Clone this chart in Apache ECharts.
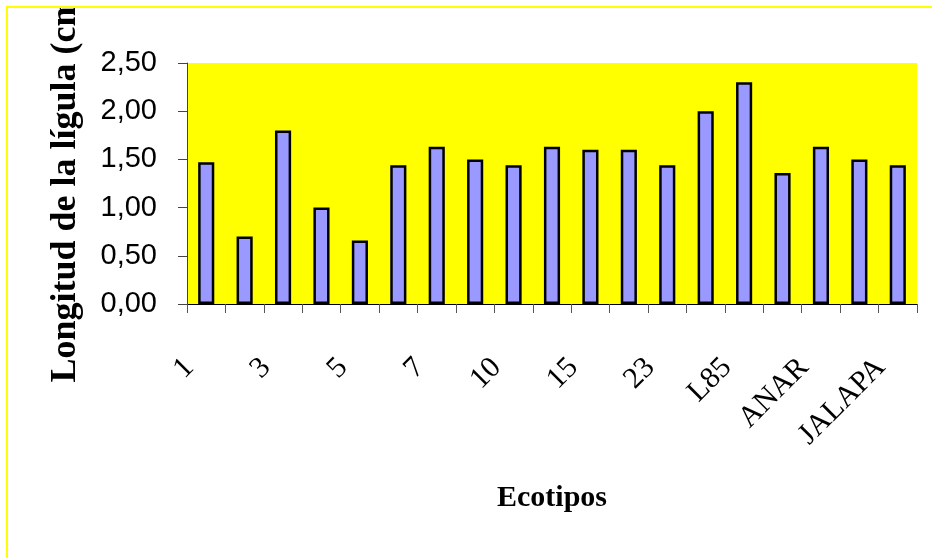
<!DOCTYPE html>
<html>
<head>
<meta charset="utf-8">
<script src="https://cdn.jsdelivr.net/npm/echarts@6/dist/echarts.min.js"></script>
<style>
  html, body { margin: 0; padding: 0; background: #fff; }
  #frame {
    position: absolute; left: 6px; top: 6px; width: 926px; height: 551px;
    border-left: 2px solid #ffff00; border-top: 2px solid #ffff00;
    border-bottom: 1px solid #ffff66;
  }
  #chart { width: 924px; height: 551px; }
</style>
</head>
<body>
<div id="frame"><div id="chart"></div></div>
<script>
// ecotipos (los intermedios no se ven en la figura, solo uno de cada dos)
const categories = ['1', '2', '3', '4', '5', '6', '7', '8', '10', '12', '15', '20', '23', 'L80', 'L85', 'ALAMO', 'ANAR', 'CHAPINGO', 'JALAPA'];
// longitud de la lígula (cm)
const ligula = [1.47, 0.70, 1.80, 1.00, 0.66, 1.44, 1.63, 1.50, 1.44, 1.63, 1.60, 1.60, 1.44, 2.00, 2.30, 1.36, 1.63, 1.50, 1.44];

const chart = echarts.init(document.getElementById('chart'));

const option = {
  animation: false,
  grid: {
    left: 179, right: 15, top: 55, bottom: 255,
    outerBoundsMode: 'none',
    containLabel: false,
    show: true, backgroundColor: '#ffff00', borderWidth: 0
  },
  xAxis: {
    type: 'category',
    data: categories,
    name: 'Ecotipos',
    nameLocation: 'middle',
    nameGap: 179,
    nameTextStyle: { fontFamily: 'Liberation Serif', fontWeight: 'bold', fontSize: 30, color: '#000' },
    axisLine: { lineStyle: { color: '#000', width: 1 } },
    axisTick: { show: true, interval: 0, length: 9, lineStyle: { color: '#555' } },
    axisLabel: {
      interval: 1, rotate: 45, margin: 42,
      padding: [0, 24, 0, 0],
      fontFamily: 'Liberation Serif', fontSize: 30, color: '#000'
    }
  },
  yAxis: {
    type: 'value',
    min: 0, max: 2.5, interval: 0.5,
    name: 'Longitud de la lígula (cm)',
    nameLocation: 'middle',
    nameGap: 103,
    nameTextStyle: { fontFamily: 'Liberation Serif', fontWeight: 'bold', fontSize: 36, color: '#000' },
    axisLine: { show: true, lineStyle: { color: '#444', width: 1 } },
    axisTick: { show: true, length: 9, lineStyle: { color: '#444' } },
    splitLine: { show: false },
    axisLabel: {
      margin: 30,
      fontFamily: 'Liberation Sans', fontSize: 29, color: '#000',
      formatter: v => v.toFixed(2).replace('.', ',')
    }
  },
  series: [{
    type: 'bar',
    data: ligula,
    barWidth: '42%',
    itemStyle: { color: '#9999ff', borderColor: '#000', borderWidth: 2.5 }
  }]
};

chart.setOption(option);
</script>
</body>
</html>
